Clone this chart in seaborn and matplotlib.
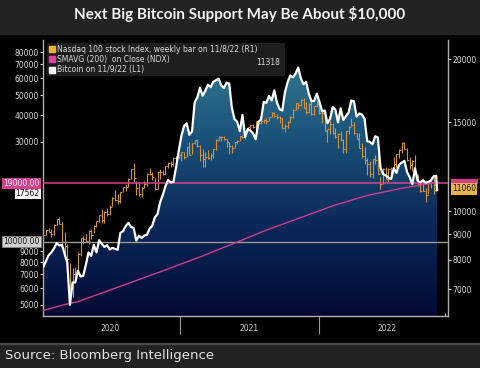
import numpy as np
import pandas as pd
import matplotlib
matplotlib.use("Agg")
import matplotlib.pyplot as plt
import matplotlib.dates as mdates
from matplotlib.colors import LinearSegmentedColormap
from matplotlib.lines import Line2D
from matplotlib.patches import Rectangle
import seaborn as sns

# Weekly bars (Monday of each week)
weeks = pd.date_range("2020-01-06", "2022-11-07", freq="W-MON")

# Nasdaq 100 weekly close / high / low (right axis)
ndx_close = [
    8973, 9174, 9093, 8992, 9402, 9623, 9446, 8462, 8530, 8032,
    7020, 7502, 7487, 8231, 8833, 8783, 8718, 9121, 8977, 9325,
    9555, 9824, 9588, 9947, 9849, 10208, 10597, 10503, 10461, 10905,
    11139, 11175, 11597, 12110, 11623, 11088, 10794, 11117, 11313, 11853,
    11864, 11667, 11052, 11937, 11937, 11854, 12258, 12465, 12378, 12756,
    12805, 12888,
    13105, 12803, 13366, 12925, 13612, 13807, 13475, 12909, 12668, 12820,
    12759, 12911, 13246, 13845, 14041, 13987, 13860, 13720, 13431, 13342,
    13687, 13774, 14069, 14047, 14379, 14640, 14773, 14645, 15046, 14960,
    15096, 15155, 15093, 15375, 15653, 15392, 15337, 15311, 14632, 14728,
    15023, 15349, 15850, 16344, 16233, 16573, 16026, 15712, 16331, 15583,
    16155, 16320,
    15612, 15611, 14438, 14540, 14890, 14253, 13994, 14236, 13830, 13299,
    14376, 14697, 14838, 14283, 13913, 13358, 12854, 12644, 12387, 11833,
    12682, 12635, 11830, 11312, 12131, 11577, 12126, 11992, 12397, 12948,
    13209, 13654, 13286, 12605, 12318, 12589, 11849, 11311, 10971, 10954,
    10738, 11436, 11637, 10986, 11060,
]
ndx_high = [
    9010, 9190, 9260, 9200, 9430, 9640, 9720, 9500, 9070, 8600,
    7900, 7700, 7750, 8300, 8860, 8920, 9000, 9160, 9230, 9400,
    9560, 9840, 10100, 10000, 10150, 10260, 10640, 11000, 10800, 10930,
    11180, 11300, 11620, 12120, 12440, 11450, 11350, 11150, 11480, 11880,
    12180, 11950, 11650, 12020, 12140, 12040, 12270, 12480, 12590, 12780,
    12830, 12930,
    13120, 13110, 13400, 13730, 13620, 13840, 13880, 13500, 13300, 13100,
    13200, 13030, 13270, 13860, 14060, 14090, 14070, 13900, 13700, 13490,
    13700, 13800, 14100, 14170, 14390, 14660, 14810, 14900, 15060, 15130,
    15130, 15190, 15260, 15390, 15700, 15700, 15550, 15400, 15300, 14880,
    15060, 15400, 15900, 16370, 16380, 16690, 16760, 16440, 16400, 16500,
    16170, 16570,
    16520, 15810, 15440, 14560, 15050, 14950, 14580, 14270, 14400, 13920,
    14390, 14720, 15260, 14990, 14260, 14260, 13650, 13390, 12760, 12560,
    12700, 12930, 12940, 11670, 12170, 12220, 12150, 12220, 12780, 12990,
    13290, 13680, 13720, 13330, 12800, 12630, 12940, 11850, 11440, 11630,
    11100, 11460, 11690, 11750, 11340,
]
ndx_low = [
    8790, 8950, 9070, 8890, 8960, 9370, 9420, 8440, 8200, 7620,
    6960, 6770, 7360, 7570, 8150, 8620, 8680, 8600, 8820, 9040,
    9310, 9530, 9460, 9470, 9780, 9800, 10240, 10460, 10330, 10380,
    10910, 10970, 11140, 11570, 11400, 10770, 10730, 10680, 11090, 11200,
    11780, 11540, 10990, 11080, 11590, 11780, 11860, 12160, 12200, 12290,
    12650, 12740,
    12580, 12700, 12800, 12900, 12990, 13590, 13370, 12560, 12210, 12220,
    12690, 12600, 12730, 13240, 13760, 13770, 13830, 13390, 12980, 13060,
    13350, 13560, 13760, 13930, 13910, 14380, 14550, 14620, 14480, 14850,
    14880, 14970, 14870, 15050, 15360, 15380, 15210, 14950, 14560, 14370,
    14610, 15010, 15290, 15830, 15940, 16170, 15990, 15600, 15650, 15500,
    15470, 16100,
    15570, 14950, 14420, 13720, 14200, 14230, 13940, 13320, 13780, 13020,
    13040, 14230, 14750, 14200, 13900, 13330, 12730, 12400, 11790, 11660,
    11640, 12410, 11820, 11070, 11300, 11500, 11420, 11750, 11990, 12180,
    12750, 13020, 13270, 12560, 12140, 11990, 11800, 11230, 10900, 10950,
    10440, 10830, 11090, 10790, 10940,
]

# Bitcoin weekly (left axis), plus last print on 11/9/22
btc_weekly = [
    7600, 8110, 8630, 8900, 9290, 9850, 9610, 9660, 8750, 7940,
    5010, 6400, 6400, 7270, 6840, 6880, 7760, 8900, 8560, 9670,
    8900, 10170, 9780, 9450, 9630, 9190, 9350, 9250, 9160, 11030,
    11230, 11880, 12300, 11750, 11660, 10130, 10680, 10420, 10700, 10790,
    11530, 11920, 13070, 13550, 15480, 16720, 18410, 19700, 19170, 19270,
    22720, 27080,
    31970, 35570, 36630, 32290, 33540, 46200, 48720, 54200, 49600, 52380,
    56000, 54500, 57750, 58730, 59800, 55700, 54000, 57200, 56700, 43500,
    38400, 37300, 33600, 40200, 31600, 34500, 33800, 32800, 30800, 37300,
    38200, 46300, 45900, 49500, 47100, 52700, 46000, 42800, 42200, 51500,
    57400, 62000, 60800, 63200, 67550, 60100, 56300, 57800, 50600, 46700,
    46900, 50700,
    46400, 41800, 42200, 36700, 38500, 43800, 42600, 37000, 43200, 38000,
    39700, 41300, 47100, 46600, 39500, 40800, 40400, 38500, 30100, 29900,
    29100, 31800, 31400, 22500, 21000, 20700, 20200, 19900, 22400, 21300,
    23300, 23800, 24300, 21500, 20300, 18800, 22400, 19500, 19200, 19600,
    19100, 19300, 19600, 20500, 20600,
]
btc_last_date = "2022-11-09"
btc_last = 17562

# Moving average line (magenta)
sma_dates = ["2020-01-05", "2020-03-08", "2020-04-04", "2020-11-08", "2021-02-22",
             "2021-05-31", "2021-08-18", "2021-11-13", "2022-02-08", "2022-05-08",
             "2022-08-03", "2022-09-17", "2022-10-29", "2022-11-09"]
sma_vals = [4700, 5055, 5170, 7180, 8460, 9970, 11400, 13000, 14850, 16600,
            17900, 18500, 19000, 19100]

support_hi = 19000
support_lo = 10000
ndx_last = 11060
sma_last = 11318

left_ticks = [5000, 6000, 7000, 8000, 9000, 30000, 40000, 50000, 60000, 70000, 80000]
right_ticks = [7000, 8000, 9000, 10000, 15000, 20000]
years = ["2020", "2021", "2022"]

btc_dates = list(weeks) + [pd.Timestamp(btc_last_date)]
btc_vals = btc_weekly + [btc_last]
df_btc = pd.DataFrame({"Date": btc_dates, "BTC": btc_vals})
df_sma = pd.DataFrame({"Date": pd.to_datetime(sma_dates), "SMA": sma_vals})

sns.set_theme(style="dark")
plt.rcParams["font.family"] = ["DejaVu Sans"]

fig = plt.figure(figsize=(4.8, 3.68), dpi=100, facecolor="#000000")

# background bands
fig.patches.append(Rectangle((0, 1 - 34 / 368), 1, 34 / 368, transform=fig.transFigure,
                             color="#232323", zorder=0))
fig.patches.append(Rectangle((0, 0), 1, 24 / 368, transform=fig.transFigure,
                             color="#222222", zorder=0))
fig.patches.append(Rectangle((0, 24 / 368), 1, 1.5 / 368, transform=fig.transFigure,
                             color="#4a4a4a", zorder=0))

fig.text(0.5, 1 - 14 / 368, "Next Big Bitcoin Support May Be About $10,000",
         ha="center", va="center", color="#f2f2f2", fontsize=11, family="Lato", weight="bold")
fig.text(5 / 480, 12 / 368, "Source: Bloomberg Intelligence", ha="left", va="center",
         color="#e2e2e2", fontsize=9.5)

rect = [43 / 480, (368 - 316) / 368, (448 - 43) / 480, 276 / 368]
ax = fig.add_axes(rect)          # left axis: bitcoin fill
ax_n = ax.twinx()                # right axis: nasdaq bars
ax_l = ax.twinx()                # left scale again: lines on top

btc_lim = (4430, 91400)
ndx_lim = (6195, 21820)
xlim = (pd.Timestamp("2020-01-05"), pd.Timestamp("2022-12-08"))

for a in (ax, ax_l):
    a.set_yscale("log")
    a.set_ylim(*btc_lim)
ax_n.set_yscale("log")
ax_n.set_ylim(*ndx_lim)

ax.set_facecolor("#000000")

# gradient fill under bitcoin
poly = ax.fill_between(df_btc["Date"], df_btc["BTC"], 1, color="none", lw=0)
cmap = LinearSegmentedColormap.from_list(
    "bb", [(0, "#020a33"), (0.35, "#0b2a5b"), (0.65, "#1a5279"), (1.0, "#3c8399")])
grad = np.linspace(0, 1, 256).reshape(-1, 1)
img = ax.imshow(grad, cmap=cmap, aspect="auto", origin="lower", extent=[0, 1, 0, 1],
                transform=ax.transAxes, zorder=1)
img.set_clip_path(poly.get_paths()[0], ax.transData)

# nasdaq weekly bars
ax_n.vlines(weeks, ndx_low, ndx_high, color="#d4923e", lw=0.8)
ax_n.plot(weeks, ndx_close, linestyle="", marker=1, markersize=1.6, color="#d4923e", mew=0.8)

# lines
ax_l.axhline(support_hi, color="#d2458c", lw=1.1, zorder=2)
ax_l.axhline(support_lo, color="#9a9a9a", lw=1.0, zorder=2)
sns.lineplot(data=df_sma, x="Date", y="SMA", ax=ax_l, color="#cc3f8a", lw=1.0)
sns.lineplot(data=df_btc, x="Date", y="BTC", ax=ax_l, color="white", lw=1.6)

for a in (ax, ax_n, ax_l):
    a.set_xlim(*xlim)
    a.set_xlabel("")
    a.set_ylabel("")
    a.grid(False)
    for s in a.spines.values():
        s.set_visible(False)

for side in ("left", "bottom", "right"):
    ax.spines[side].set_visible(True)
    ax.spines[side].set_color("#b0b0b0")
    ax.spines[side].set_linewidth(1.0)

# left ticks
ax.yaxis.set_major_locator(matplotlib.ticker.FixedLocator(left_ticks))
ax.yaxis.set_major_formatter(matplotlib.ticker.FixedFormatter([str(v) for v in left_ticks]))
ax.yaxis.set_minor_locator(matplotlib.ticker.NullLocator())
ax.tick_params(axis="y", which="major", left=True, right=False, length=2, width=0.8,
               color="#cfcfcf", labelsize=5.5, labelcolor="#d8d8d8", pad=1)
ax_l.set_yticks([])
ax_l.yaxis.set_minor_locator(matplotlib.ticker.NullLocator())

# right ticks
ax_n.yaxis.set_major_locator(matplotlib.ticker.FixedLocator(right_ticks))
ax_n.yaxis.set_major_formatter(matplotlib.ticker.FixedFormatter([str(v) for v in right_ticks]))
ax_n.yaxis.set_minor_locator(matplotlib.ticker.NullLocator())
ax_n.tick_params(axis="y", which="major", right=True, left=False, length=2, width=0.8,
                 color="#cfcfcf", labelsize=5.5, labelcolor="#d8d8d8", pad=1)

# x axis: year separators + monthly ticks inside
ax.xaxis.set_major_locator(mdates.YearLocator())
ax.xaxis.set_minor_locator(mdates.MonthLocator())
ax.xaxis.set_major_formatter(matplotlib.ticker.NullFormatter())
ax.tick_params(axis="x", which="major", bottom=True, direction="out", length=13, width=0.8,
               color="#9a9a9a")
ax.tick_params(axis="x", which="minor", bottom=True, direction="in", length=2, width=0.8,
               color="#cfcfcf")
for a in (ax_n, ax_l):
    a.tick_params(axis="x", which="both", bottom=False, top=False, labelbottom=False)

for y in years:
    ax.text(pd.Timestamp(f"{y}-07-01"), -0.047, y, transform=ax.get_xaxis_transform(),
            ha="center", va="center", color="#d0d0d0", fontsize=5.5)

# value boxes on the left
lt = ax_l.get_yaxis_transform()
ax_l.annotate(f"{btc_last}", xy=(-0.008, support_hi), xycoords=lt, xytext=(0, -4.2),
              textcoords="offset points", ha="right", va="top", fontsize=5.5,
              color="#111111", annotation_clip=False, zorder=6,
              bbox=dict(boxstyle="square,pad=0.12", fc="#f4f4f4", ec="none"))
ax_l.text(-0.008, support_hi, f"{support_hi:.2f}", transform=lt, ha="right", va="center",
          fontsize=5.5, color="white", clip_on=False, zorder=7,
          bbox=dict(boxstyle="square,pad=0.12", fc="#d6408a", ec="none"))
ax_l.text(-0.008, support_lo, f"{support_lo:.2f}", transform=lt, ha="right", va="center",
          fontsize=5.5, color="#111111", clip_on=False, zorder=7,
          bbox=dict(boxstyle="square,pad=0.12", fc="#cfcfcf", ec="#8a8a8a", lw=0.6))

# value boxes on the right (moving average tag mostly hidden behind the last price)
rt = ax_n.get_yaxis_transform()
ax_n.add_patch(Rectangle((1.008, sma_last), 0.066, 280, transform=rt, clip_on=False,
                         fc="#d6408a", ec="none", zorder=6))
ax_n.text(1.01, ndx_last, f"{ndx_last}", transform=rt, ha="left", va="center",
          fontsize=5.5, color="#111111", clip_on=False, zorder=7,
          bbox=dict(boxstyle="square,pad=0.15", fc="#e9b448", ec="none"))

# legend
handles = [
    Line2D([], [], marker="s", linestyle="", color="#f0b232", markersize=4),
    Line2D([], [], marker="s", linestyle="", color="#e23fa2", markersize=4),
    Line2D([], [], marker="s", linestyle="", color="#f4f4f4", markersize=4),
]
labels = ["Nasdaq 100 stock Index, weekly bar on 11/8/22 (R1)",
          "SMAVG (200)  on Close (NDX)",
          "Bitcoin on 11/9/22 (L1)"]
leg = ax_l.legend(handles, labels, loc="upper left", bbox_to_anchor=(0.01, 0.873, 0.588, 0.116),
                  mode="expand", fontsize=5.5, labelcolor="#dcdcdc", frameon=True,
                  facecolor="#1e1e1e", edgecolor="none", framealpha=1, fancybox=False,
                  borderpad=0.25, labelspacing=0.15, handletextpad=0.3, handlelength=0.7,
                  borderaxespad=0)
ax_l.text(0.585, 0.92, f"{sma_last}", transform=ax_l.transAxes, ha="right", va="center",
          fontsize=5.5, color="#dcdcdc", zorder=10)

fig.savefig("out.png", dpi=100, facecolor=fig.get_facecolor())
